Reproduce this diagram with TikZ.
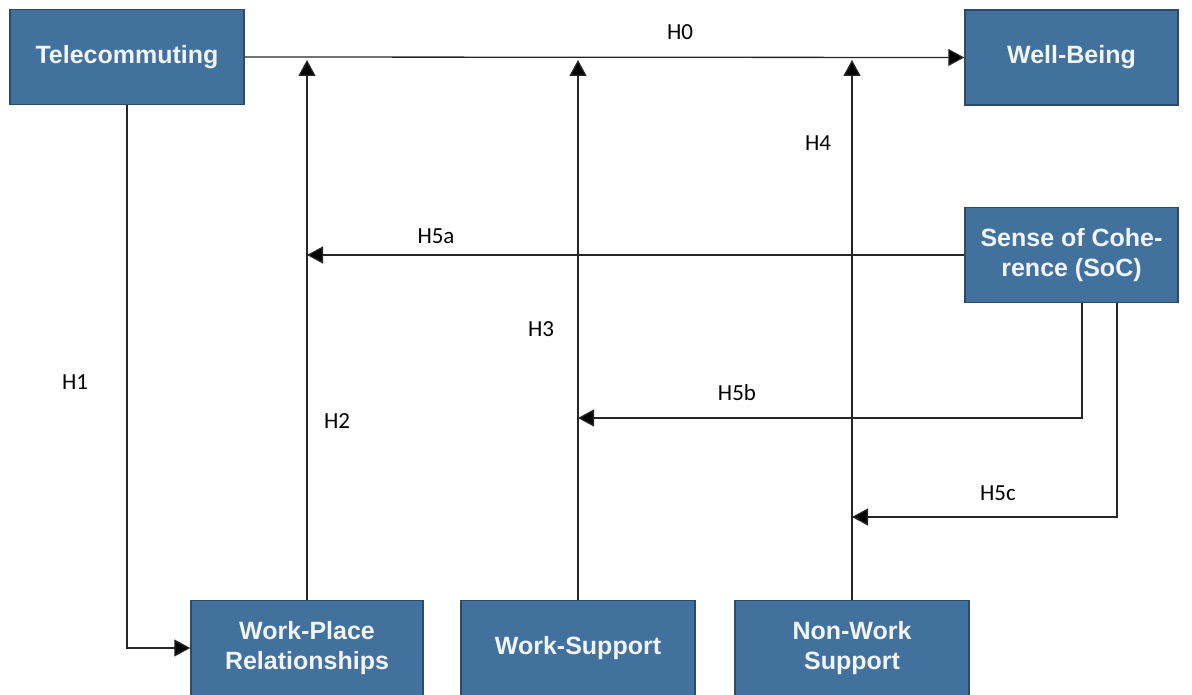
\documentclass[tikz,border=0pt]{standalone}
\usepackage{fontspec}
\setmainfont{Liberation Sans}
\newfontfamily\labfont{Carlito}
\usetikzlibrary{arrows.meta}
\definecolor{boxblue}{HTML}{41719C}
\definecolor{boxedge}{HTML}{2E4A66}
\definecolor{boxtext}{HTML}{F2F5F8}
\tikzset{
  varbox/.style={draw=boxedge, line width=1.5pt, fill=boxblue, text=boxtext,
    align=center, inner sep=0pt, minimum width=234pt, minimum height=95pt,
    font=\fontsize{25}{30}\selectfont\bfseries},
  hyplab/.style={inner sep=0pt, font=\labfont\fontsize{23}{27}\selectfont},
  path/.style={draw=black!85, line width=1.3pt, -{Triangle[length=16pt,width=17pt,fill=black]}}
}

\begin{document}
\begin{tikzpicture}[x=1pt,y=-1pt]
			%%%%% START %%%%%
			\useasboundingbox (0,0) rectangle (1192,695);
			
			\node[varbox] (tele) at (127, 57) {Telecommuting};
			\node[varbox, minimum width=213pt] (well) at (1071.5, 57.5) {Well-Being};
			\node[varbox, minimum width=213pt] (soc) at (1071.5, 255) {Sense of Cohe-\\rence (SoC)};
			
			\node[varbox, minimum width=232pt] (wpr) at (307, 648) {Work-Place\\Relationships};
			\node[varbox] (ws) at (578, 648) {Work-Support};
			\node[varbox] (nws) at (852, 648) {Non-Work\\Support};
			
			\coordinate (socb) at (1082, 303);
			\coordinate (socc) at (1117, 303);
			
			\draw[path] (tele.east) -- (well.west);
			\draw[path] (tele.south) |- (wpr.west);
			\draw[path, shorten >=3pt] (wpr.north) -- (wpr.north |- tele.east);
			\draw[path, shorten >=3pt] (ws.north) -- (ws.north |- tele.east);
			\draw[path, shorten >=3pt] (nws.north) -- (nws.north |- tele.east);
			
			\draw[path] (soc.west) -- (soc.west -| wpr.north);
			\draw[path] (socb) |- (ws.north |- 0,418);
			\draw[path] (socc) |- (nws.north |- 0,517);
			
			\node[hyplab] (h0) at (680, 32) {H0};
			\node[hyplab] (h1) at (75, 382) {H1};
			\node[hyplab] (h2) at (337, 421) {H2};
			\node[hyplab] (h3) at (541, 329) {H3};
			\node[hyplab] (h4) at (818, 143) {H4};
			\node[hyplab] (h5a) at (436, 236) {H5a};
			\node[hyplab] (h5b) at (737, 393) {H5b};
			\node[hyplab] (h5c) at (998, 493) {H5c};
			%%%%% END %%%%%
\end{tikzpicture}
\end{document}
